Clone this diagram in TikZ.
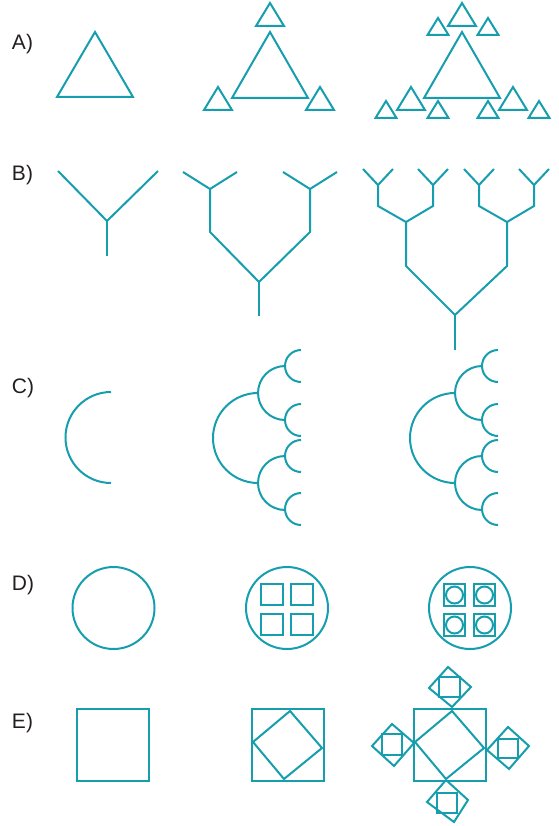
\documentclass[tikz,border=0pt]{standalone}
\usepackage{fontspec}
\setmainfont{Liberation Sans}
\definecolor{teal1}{RGB}{22,158,174}
\definecolor{ink}{RGB}{35,31,32}
\newcommand{\tri}[4]{\draw (#1,#2) -- ++(-#3,#4) -- ++(2*#3,0) -- cycle;}

\begin{document}
\begin{tikzpicture}
    [x=1pt, y=-1pt,
    line width=2pt, color=teal1, line join=miter,
    lbl/.style={anchor=base west, inner sep=0pt, text=ink, font=\fontsize{21}{25}\selectfont},
    box/.style={line width=2.3pt}]
    \useasboundingbox (0,0) rectangle (558,826);

        %% Labels
    \node[lbl] (A) at (11,50) {A)};
    \node[lbl] (B) at (11,181) {B)};
    \node[lbl] (C) at (11,393) {C)};
    \node[lbl] (D) at (11,590) {D)};
    \node[lbl] (E) at (11,728) {E)};

        %% Row A
    \tri{95}{32}{38}{65}
    \tri{270}{32}{38}{66}
    \tri{462}{32}{38}{66}
    \foreach \x/\y in {270/3, 218/87, 320/87, 462/3, 411/87, 513/87}
        {\tri{\x}{\y}{14}{23}}
    \foreach \x/\y in {438/18, 488/18, 386/101, 438/101, 488/101, 539/101}
        {\tri{\x}{\y}{10.5}{17}}

        %% Row B
    \draw (107,256) -- (107,221) coordinate (Y1);
    \draw (58,171) -- (Y1) -- (158,171);

    \draw (259,316) -- (259,282) coordinate (Y2);
    \draw (210,189) -- (210,232) -- (Y2) -- (310,232) -- (310,189);
    \draw (183,172) -- (210,189) -- (237,172);
    \draw (283,172) -- (310,189) -- (337,172);

    \draw (455,350) -- (455,315) coordinate (Y3);
    \draw (406,222) -- (406,266) -- (Y3) -- (507,266) -- (507,222);
    \draw (378,185) -- (378,206) -- (406,222) -- (433,206) -- (433,185);
    \draw (479,185) -- (479,206) -- (507,222) -- (534,206) -- (534,185);
    \foreach \x in {378,433,479,534}
        \draw (\x-15,169) -- (\x,185) -- (\x+15,169);

        %% Row C
    \draw (111,392) arc[start angle=90, end angle=270, radius=45.5pt];
    \foreach \dx in {0,197} {
        \draw (258+\dx,393) arc[start angle=90, end angle=270, radius=45pt];
        \foreach \y in {393,483}
            \draw (285+\dx,\y-27) arc[start angle=90, end angle=270, radius=27pt];
        \foreach \y in {366,420,456,509}
            \draw (301+\dx,\y-16) arc[start angle=90, end angle=270, radius=16pt];
    }

        %% Row D
    \draw (113.5,608) circle[radius=41pt];
    \draw (287,608) circle[radius=41pt];
    \foreach \sx in {-15,15}
        \foreach \sy in {-15,15}
            \draw[box] (287+\sx-11,609.5+\sy-10.5) rectangle ++(22,21);
    \draw (470,608) circle[radius=41pt];
    \foreach \sx in {-15,15}
        \foreach \sy in {-15,15} {
            \draw[box] (469.5+\sx-10.5,610+\sy-11) rectangle ++(21,22);
            \draw (469.5+\sx,610+\sy) circle[radius=8.5pt];
        }

        %% Row E
    \draw (77,709) rectangle (149,781);
    \draw (252,709) rectangle (324,781);
    \draw (290,711) -- (322,748) -- (284,779) -- (253,742) -- cycle;
    \draw (414,709) rectangle (486,781);
    \draw (452,711) -- (484,748) -- (446,779) -- (415,742) -- cycle;
    \draw (448,667) -- (471,687) -- (452,707) -- (429,688) -- cycle;
    \draw[box] (439,677) rectangle (460,697);
    \draw (392,724) -- (414,743) -- (394,766) -- (372,746) -- cycle;
    \draw[box] (382,734) rectangle (402,755);
    \draw (508,727) -- (529,746) -- (509,769) -- (487,750) -- cycle;
    \draw[box] (498,739) rectangle (518,758);
    \draw (446,780) -- (468,800) -- (454,822) -- (427,802) -- cycle;
    \draw[box] (437,793) rectangle (457,813);
\end{tikzpicture}
\end{document}
